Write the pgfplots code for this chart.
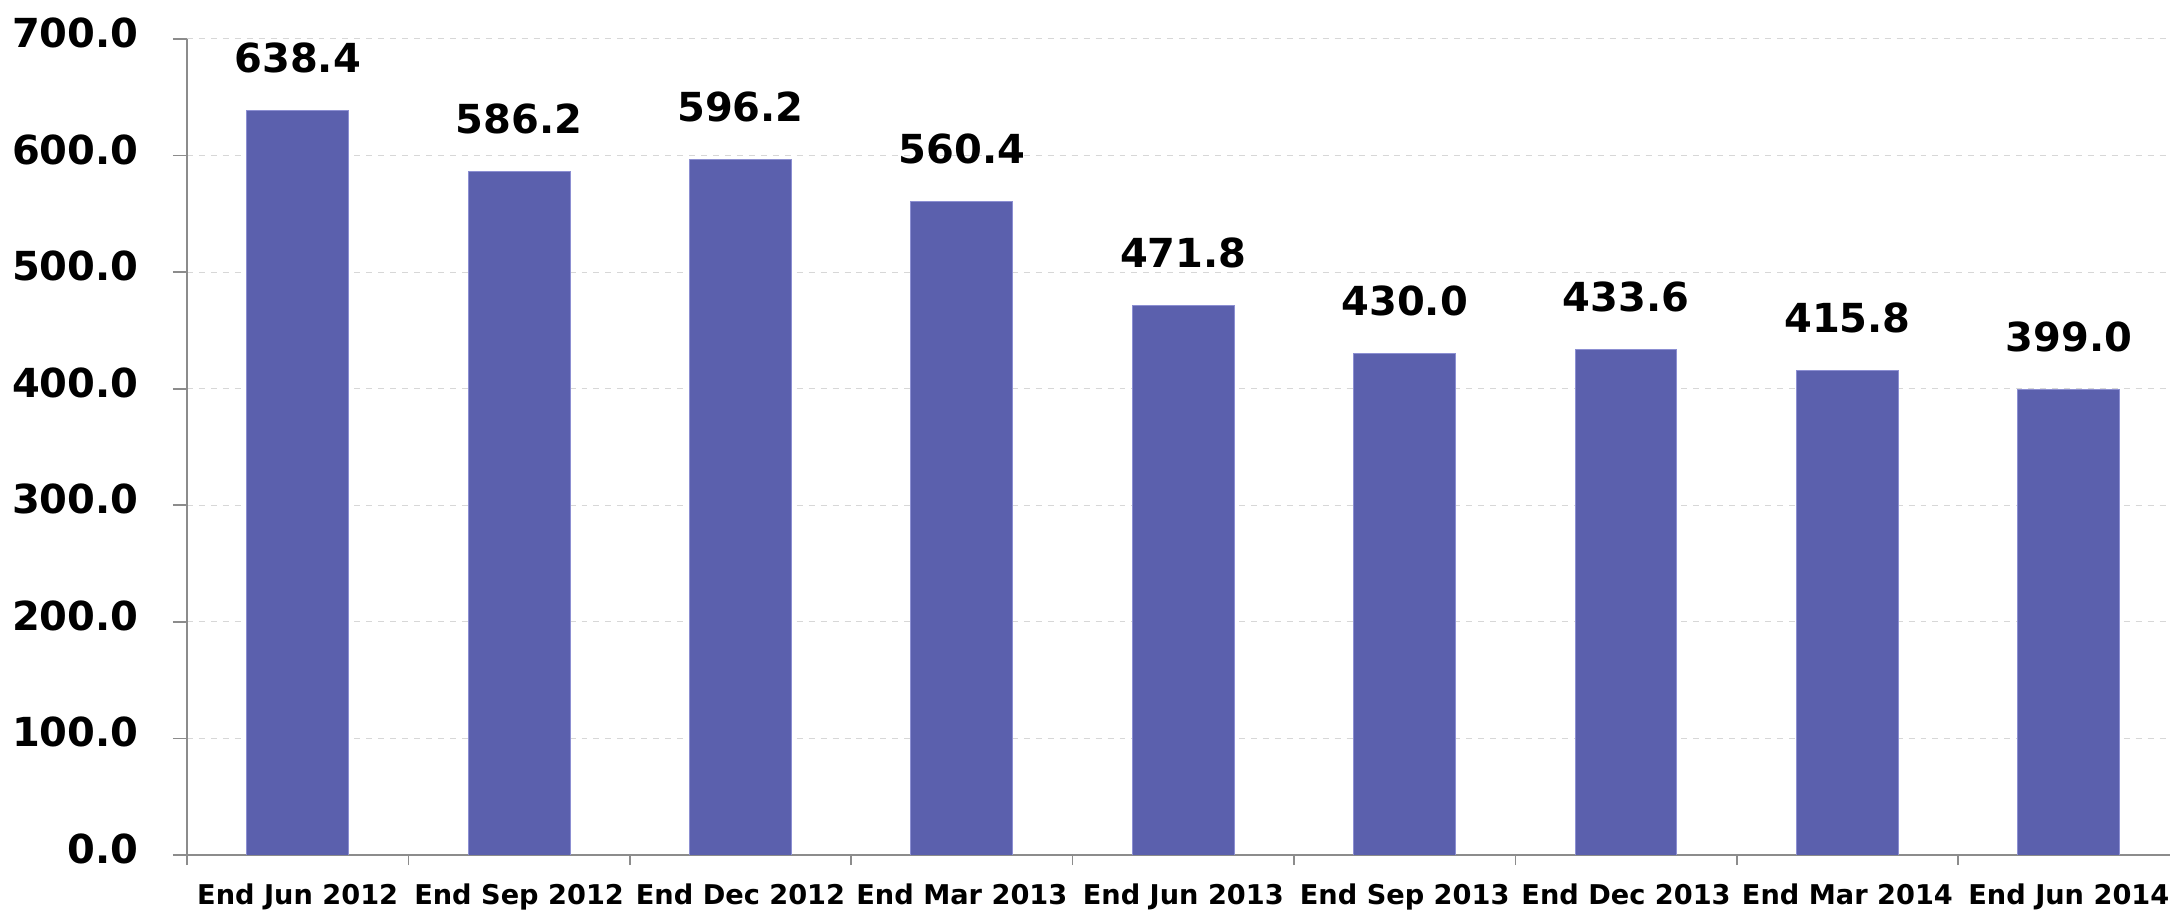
\documentclass[border=0pt]{standalone}
\usepackage{pgfplots}
\pgfplotsset{compat=1.18}
\usepackage{fontspec}
\setmainfont{DejaVu Sans}
\definecolor{barblue}{RGB}{91,96,173}
\definecolor{baredge}{RGB}{140,143,210}
\definecolor{axgray}{RGB}{140,140,140}
\definecolor{gridgray}{RGB}{215,215,215}
\begin{document}
\begin{tikzpicture}
\begin{axis}[
  scale only axis,
  width=991.5bp, height=408bp,
  xmin=-0.5, xmax=8.457,
  ymin=0, ymax=700,
  ytick={0,100,...,700},
  xtick={0,...,8},
  xticklabels={End Jun 2012,End Sep 2012,End Dec 2012,End Mar 2013,End Jun 2013,End Sep 2013,End Dec 2013,End Mar 2014,End Jun 2014},
  minor xtick={-0.5,0.5,1.5,2.5,3.5,4.5,5.5,6.5,7.5},
  axis x line*=bottom, axis y line*=left,
  x axis line style={axgray, line width=0.8bp, -},
  y axis line style={axgray, line width=0.8bp, -},
  tick align=outside,
  major tick length=7bp,
  minor tick length=5bp,
  major x tick style={draw=none},
  minor x tick style={axgray, line width=0.8bp},
  ytick style={axgray, line width=0.8bp},
  ymajorgrids,
  grid style={gridgray, dashed, line width=0.5bp},
  /pgf/number format/.cd, fixed, zerofill, precision=1, assume math mode=true,
  /pgfplots/.cd,
  yticklabel style={font=\bfseries\fontsize{20bp}{22bp}\selectfont, anchor=east, inner sep=0pt, xshift=-17bp, yshift=3bp},
  xticklabel style={font=\bfseries\fontsize{13.6bp}{16bp}\selectfont, anchor=base, inner sep=0pt, yshift=-17.5bp},
  ybar, bar width=0.46,
  nodes near coords,
  nodes near coords style={font=\bfseries\fontsize{20bp}{23bp}\selectfont, anchor=base, inner sep=0pt, yshift=19bp, text=black},
]
\addplot[fill=barblue, draw=baredge, line width=0.5bp] coordinates {
(0,638.4) (1,586.2) (2,596.2) (3,560.4) (4,471.8) (5,430.0) (6,433.6) (7,415.8) (8,399.0)
};
\coordinate (O) at (rel axis cs:0,0);
\end{axis}
\pgfresetboundingbox
\path[use as bounding box] ([xshift=-93.5bp,yshift=-28bp]O) rectangle ++(1085bp,455.5bp);
\end{tikzpicture}
\end{document}
